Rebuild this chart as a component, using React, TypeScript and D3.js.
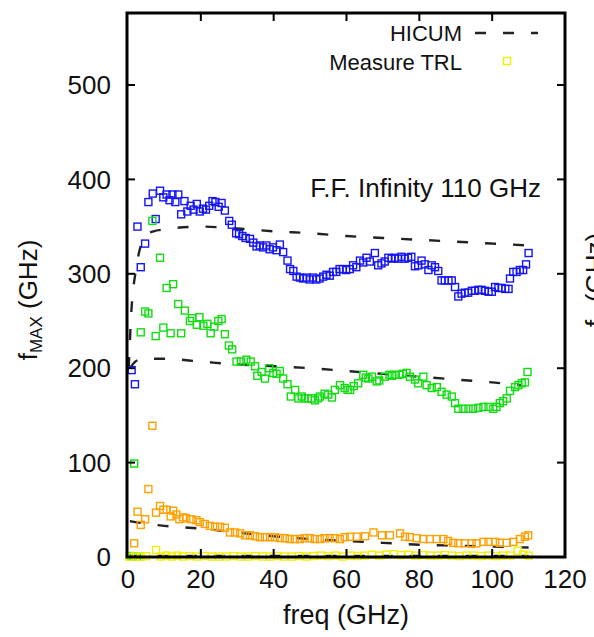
import React from "react";
import * as d3 from "d3";

const xTicks = [0, 20, 40, 60, 80, 100, 120];
const yTicks = [0, 100, 200, 300, 400, 500];

const blueData: [number, number][] = [[1.0,198],[1.9,183],[2.6,350],[3.5,307],[4.7,332],[5.6,376],[6.8,385],[7.6,358],[8.8,388],[9.7,381],[10.6,384],[11.4,378],[12.2,384],[13.0,376],[13.8,384],[14.6,363],[15.5,377],[16.3,366],[17.2,372],[18.0,368],[18.9,374],[19.7,366],[20.6,369],[21.4,368],[22.3,372],[23.2,377],[24.0,376],[24.9,371],[25.7,375],[26.6,367],[27.8,356],[28.5,352],[29.7,343],[30.5,342],[31.4,340],[32.3,338],[33.5,337],[34.4,333],[35.3,329],[36.2,330],[37.1,328],[38.0,330],[38.9,326],[39.8,328],[40.8,325],[41.7,331],[42.6,323],[43.8,314],[44.5,305],[45.4,303],[46.3,297],[47.2,296],[48.1,295],[49.0,296],[49.9,294],[50.8,296],[51.7,294],[52.6,295],[53.6,297],[54.5,299],[55.4,298],[56.3,302],[57.2,302],[58.1,305],[59.0,305],[59.9,304],[60.9,305],[61.8,309],[62.7,307],[63.7,314],[64.6,312],[65.5,317],[66.4,313],[67.8,322],[68.7,309],[69.6,311],[70.5,313],[71.5,317],[72.4,316],[73.3,317],[74.2,316],[75.1,318],[76.0,316],[76.9,317],[77.8,318],[78.8,308],[79.7,309],[80.6,314],[81.5,310],[82.5,304],[83.4,309],[84.3,307],[85.2,303],[86.1,293],[87.0,293],[88.0,293],[88.9,293],[89.8,286],[90.7,276],[91.6,279],[92.5,280],[93.4,280],[94.4,282],[95.3,282],[96.2,283],[97.1,283],[98.0,282],[99.0,281],[99.9,281],[100.8,286],[101.7,285],[102.6,285],[103.6,284],[104.5,284],[104.9,295],[105.8,302],[106.7,302],[107.6,304],[108.5,304],[109.3,310],[110.0,322]];

const greenData: [number, number][] = [[0.5,1],[1.5,0.5],[2.5,0.5],[1.7,99],[3.5,238],[4.7,260],[5.6,258],[6.7,356],[7.6,234],[8.8,317],[9.7,243],[10.6,285],[11.7,237],[12.4,289],[13.8,268],[14.6,237],[15.6,261],[17.0,250],[17.6,253],[18.9,246],[19.6,254],[20.7,245],[21.8,247],[22.7,237],[23.7,244],[24.8,250],[25.7,252],[26.6,236],[27.7,224],[28.6,220],[29.8,207],[31.0,207],[32.5,209],[33.7,207],[34.9,202],[35.5,192],[36.7,196],[37.6,189],[38.8,200],[39.9,195],[40.8,194],[41.7,197],[42.6,189],[43.8,183],[44.7,170],[45.9,177],[46.8,168],[47.7,170],[48.5,168],[49.4,168],[50.4,168],[51.3,166],[52.2,168],[52.7,170],[54.0,173],[55.0,172],[56.0,169],[56.8,177],[58.2,182],[59.5,179],[60.3,177],[61.0,177],[62.0,181],[63.2,184],[64.6,193],[65.3,190],[66.0,189],[67.0,191],[68.3,186],[69.0,187],[70.5,191],[71.8,193],[72.5,192],[73.2,193],[74.5,193],[75.5,194],[76.5,195],[77.4,191],[78.8,188],[79.7,184],[81.1,191],[82.0,182],[83.4,179],[84.8,180],[86.1,175],[87.5,172],[88.9,170],[89.8,163],[90.7,157],[92.1,157],[93.5,157],[94.8,157],[96.2,158],[97.6,159],[99.0,159],[100.3,157],[101.2,159],[102.1,163],[103.0,165],[104.0,168],[104.9,176],[106.3,180],[107.2,182],[108.1,184],[109.0,185],[109.7,196]];

const orangeData: [number, number][] = [[1.7,14.5],[2.6,48],[3.5,34],[4.7,40],[5.6,72],[6.7,139],[7.7,47],[8.8,54],[9.7,50],[10.6,50],[11.7,43],[12.4,49],[13.3,45],[14.1,40],[15.1,42],[16.0,41],[17.4,40],[18.8,39],[19.7,37],[21.1,35],[22.5,33],[23.9,32],[25.3,32],[26.6,31],[28.0,26],[29.4,26],[30.8,25],[32.2,23],[33.5,23],[34.9,22],[36.2,21],[37.6,21],[39.0,21],[40.3,21],[41.7,20],[43.1,20],[44.4,19],[45.8,19],[47.2,19],[48.5,20],[49.9,20],[51.3,19],[52.7,19],[54.0,20],[55.4,20],[56.8,20],[58.2,19],[59.5,21],[61.0,21.5],[62.8,21.5],[65.1,22],[67.4,26],[69.7,23],[71.9,23],[74.7,25],[76.1,21.5],[77.4,21],[79.3,20],[81.1,19],[82.9,19],[84.8,19],[86.6,19],[87.9,17],[89.3,15],[90.7,14.5],[92.5,14.5],[94.4,14.5],[95.7,14.5],[97.6,16],[99.0,16],[100.8,16],[102.1,15],[104.0,15],[105.8,16],[107.6,19],[109.0,21.5],[109.9,23]];

const yellowData: [number, number][] = [[0.5,0.3],[2,0.5],[3.5,0.3],[5,0.8],[7.7,7.4],[9,0.5],[10.5,1.5],[12,0.5],[13.5,1.5],[15,0.5],[17,1],[19,0.5],[21,1],[23,0.5],[25,0.5],[27,0.5],[29,1],[31,0.5],[33,0.5],[35,1],[37,0.5],[39,0.5],[41,1],[43,0.5],[45,0.5],[47,1],[49,0.5],[51,1],[53,1.5],[55,1],[57,1.5],[59,0.5],[61,1.5],[63,1],[65,1.5],[67,2.5],[69,1.5],[71,2.5],[73,3],[75,2],[77,2.5],[79,1.5],[81,2],[83,1.5],[85,1.5],[87,2],[89,1.5],[91,1],[93,1.5],[95,1.5],[97,1],[99,1.5],[101,1],[103,1.5],[105,1.5],[107,6.7],[108.5,2.5],[110,1.5]];

const hicumBlue: [number, number][] = [[0.2,200],[1,265],[2,300],[3,322],[4,335],[5,341],[7,345],[10,347],[20,350],[30,348],[40,345],[50,343],[60,340],[70,338],[80,336],[90,334],[100,332],[110,330]];
const hicumGreen: [number, number][] = [[0.5,200],[2,207],[4,210],[10,210],[20,207],[30,204],[40,202],[50,200],[60,197],[70,194],[80,191],[90,188],[100,185],[108,182]];
const hicumOrange: [number, number][] = [[0.5,38],[2,37],[10,33],[20,30],[30,26],[40,22],[50,19],[60,17],[70,15],[80,13],[90,12],[100,11],[110,10]];
const hicumYellow: [number, number][] = [[0.5,1],[110,1]];

const series = [
  { data: blueData, color: "#1515f5" },
  { data: greenData, color: "#12dd12" },
  { data: orangeData, color: "#ffa000" },
  { data: yellowData, color: "#f0f000" },
];
const hicums = [hicumBlue, hicumGreen, hicumOrange, hicumYellow];

const FONT = "'Liberation Sans', Arial, sans-serif";

export default function App() {
  const W = 594, H = 637;
  const left = 127, right = 565, top = 13, bottom = 557;
  const x = d3.scaleLinear().domain([0, 120]).range([128, 565]);
  const y = d3.scaleLinear().domain([0, 575]).range([557, 14.2]);
  const line = d3.line<[number, number]>().x(d => x(d[0])).y(d => y(d[1])).curve(d3.curveMonotoneX);
  const S = 7;

  return (
    <svg width={W} height={H} style={{ position: "absolute", left: 0, top: 0, background: "#fff" }} fontFamily={FONT}>
      <rect width={W} height={H} fill="#fff" />
      {hicums.map((h, i) => (
        <path key={"h" + i} d={line(h) || ""} fill="none" stroke="#222" strokeWidth={2.4} strokeDasharray="11 17" />
      ))}
      {series.map((s, i) => (
        <g key={"s" + i}>
          {s.data.map((d, j) => (
            <rect key={j} x={x(d[0]) - S / 2} y={y(d[1]) - S / 2} width={S} height={S} fill="none" stroke={s.color} strokeWidth={1.4} />
          ))}
        </g>
      ))}
      <rect x={left} y={top} width={right - left} height={bottom - top} fill="none" stroke="#000" strokeWidth={3} />
      {xTicks.slice(1, -1).map(t => (
        <g key={"xt" + t}>
          <line x1={x(t)} x2={x(t)} y1={bottom} y2={bottom - 8} stroke="#000" strokeWidth={2} />
          <line x1={x(t)} x2={x(t)} y1={top} y2={top + 8} stroke="#000" strokeWidth={2} />
        </g>
      ))}
      {yTicks.slice(1).map(t => (
        <g key={"yt" + t}>
          <line x1={left} x2={left + 8} y1={y(t)} y2={y(t)} stroke="#000" strokeWidth={2} />
          <line x1={right} x2={right - 8} y1={y(t)} y2={y(t)} stroke="#000" strokeWidth={2} />
        </g>
      ))}
      {xTicks.map(t => (
        <text key={"xl" + t} x={x(t)} y={588} textAnchor="middle" fontSize={26} fill="#111">{t}</text>
      ))}
      {yTicks.map(t => (
        <text key={"yl" + t} x={111} y={y(t)} dy="0.35em" textAnchor="end" fontSize={26} fill="#111">{t}</text>
      ))}
      <text x={346} y={624} textAnchor="middle" fontSize={27} fill="#111">freq (GHz)</text>
      <text transform="translate(37,300) rotate(-90)" textAnchor="middle" fontSize={26} fill="#111">
        f<tspan fontSize={17} dy={5}>MAX</tspan><tspan dy={-5}> (GHz)</tspan>
      </text>
      <text transform="translate(604,280) rotate(-90)" textAnchor="middle" fontSize={26} fill="#111">
        f<tspan fontSize={17} dy={5}>T</tspan><tspan dy={-5}> (GHz)</tspan>
      </text>
      <text x={541} y={197} textAnchor="end" fontSize={26} fill="#111">F.F. Infinity 110 GHz</text>
      <text x={462} y={41} textAnchor="end" fontSize={22} fill="#111">HICUM</text>
      <line x1={475} x2={538} y1={33} y2={33} stroke="#222" strokeWidth={2.4} strokeDasharray="11 17" />
      <text x={462} y={70} textAnchor="end" fontSize={22} fill="#111">Measure TRL</text>
      <rect x={507 - S / 2} y={61 - S / 2} width={S} height={S} fill="none" stroke="#f0f000" strokeWidth={1.4} />
    </svg>
  );
}
